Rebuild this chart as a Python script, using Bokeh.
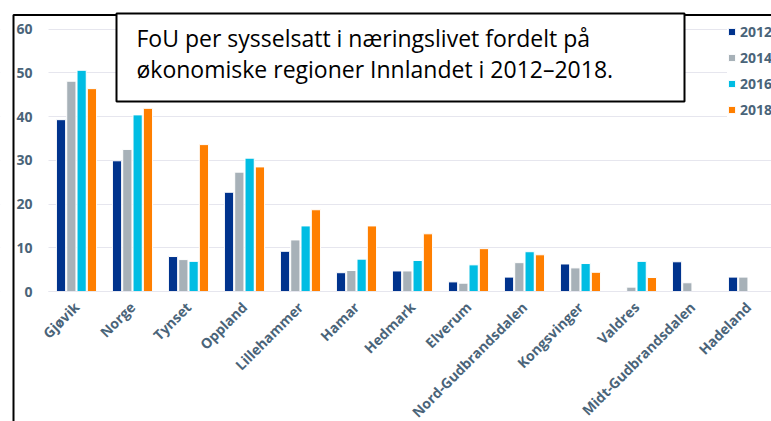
import math
from bokeh.plotting import figure
from bokeh.models import (ColumnDataSource, Range1d, FixedTicker, Legend, LegendItem,
                          BoxAnnotation, Label)
from bokeh.transform import dodge
from bokeh.embed import file_html
from bokeh.resources import INLINE

NaN = float("nan")

regions = ["Gjøvik", "Norge", "Tynset", "Oppland", "Lillehammer", "Hamar", "Hedmark",
           "Elverum", "Nord-Gudbrandsdalen", "Kongsvinger", "Valdres",
           "Midt-Gudbrandsdalen", "Hadeland"]
years = ["2012", "2014", "2016", "2018"]
v2012 = [39.3, 29.9, 8.0, 22.7, 9.2, 4.3, 4.7, 2.2, 3.3, 6.3, NaN, 6.8, 3.3]
v2014 = [48.1, 32.5, 7.3, 27.3, 11.8, 4.8, 4.7, 1.9, 6.6, 5.4, 1.0, 2.0, 3.3]
v2016 = [50.6, 40.4, 6.9, 30.5, 15.0, 7.4, 7.1, 6.1, 9.1, 6.4, 6.9, NaN, NaN]
v2018 = [46.4, 41.9, 33.6, 28.5, 18.7, 15.0, 13.2, 9.8, 8.4, 4.4, 3.2, NaN, NaN]
y_ticks = [0, 10, 20, 30, 40, 50, 60]
title_lines = ["FoU per sysselsatt i næringslivet fordelt på",
               "økonomiske regioner Innlandet i 2012–2018."]

colors = ["#00338d", "#a7b1b8", "#00bde3", "#ff7f00"]
label_color = "#4a6479"
FONT = "Open Sans"

src = ColumnDataSource(dict(x=list(range(len(regions))),
                            y2012=v2012, y2014=v2014, y2016=v2016, y2018=v2018))

# the plot frame covers the whole canvas; axes are pinned inside it
p = figure(width=771, height=421, output_backend="svg", toolbar_location=None,
           x_range=Range1d(-1.357, 12.411), y_range=Range1d(-29.73, 66.56),
           min_border=0)
p.outline_line_color = None
p.background_fill_color = "white"
p.border_fill_color = "white"

# grid, masked left of the plot area
yticker = FixedTicker(ticks=y_ticks)
p.xgrid.grid_line_color = None
p.ygrid.ticker = yticker
p.ygrid.grid_line_color = "#e6e6ee"
p.ygrid.grid_line_width = 1
p.add_layout(BoxAnnotation(left=0, right=48, top=0, bottom=421,
                           left_units="canvas", right_units="canvas",
                           top_units="canvas", bottom_units="canvas",
                           fill_color="white", fill_alpha=1, line_color=None,
                           level="underlay"))

offsets = [-0.276, -0.092, 0.092, 0.276]
renderers = []
for yr, off, col in zip(years, offsets, colors):
    r = p.vbar(x=dodge("x", off, range=p.x_range), top="y" + yr, bottom=0, width=0.165,
               source=src, fill_color=col, line_color="white", line_width=1)
    renderers.append(r)

# axes
p.xaxis.fixed_location = 0
p.xaxis.bounds = (-0.5, 12.411)
p.xaxis.ticker = FixedTicker(ticks=list(range(len(regions))))
p.xaxis.major_label_overrides = {i: name for i, name in enumerate(regions)}
p.xaxis.major_label_orientation = math.pi / 4
p.xaxis.major_tick_line_color = None
p.xaxis.major_tick_out = 0
p.xaxis.major_tick_in = 0
p.xaxis.minor_tick_line_color = None
p.xaxis.axis_line_color = "#e6e6ee"
p.xaxis.axis_line_width = 1
p.xaxis.major_label_standoff = 13
p.xaxis.major_label_text_font = FONT
p.xaxis.major_label_text_font_style = "bold"
p.xaxis.major_label_text_font_size = "14px"
p.xaxis.major_label_text_color = label_color

p.yaxis.fixed_location = -0.5
p.yaxis.ticker = yticker
p.yaxis.axis_line_color = None
p.yaxis.major_tick_line_color = None
p.yaxis.major_tick_out = 0
p.yaxis.major_tick_in = 0
p.yaxis.minor_tick_line_color = None
p.yaxis.major_label_standoff = 16
p.yaxis.major_label_text_font = FONT
p.yaxis.major_label_text_font_style = "bold"
p.yaxis.major_label_text_font_size = "14px"
p.yaxis.major_label_text_color = label_color

# legend
legend = Legend(items=[LegendItem(label=yr, renderers=[r]) for yr, r in zip(years, renderers)],
                location=(727, 302), orientation="vertical",
                glyph_width=9, glyph_height=9, label_height=20, spacing=6,
                padding=8, margin=0, label_standoff=4,
                label_text_font=FONT, label_text_font_style="bold",
                label_text_font_size="14px", label_text_color=label_color,
                background_fill_color="white", background_fill_alpha=1,
                border_line_color=None)
p.add_layout(legend, "center")

# outer frame of the picture (runs off the canvas at right and bottom)
p.add_layout(BoxAnnotation(left=13, right=2000, top=14.5, bottom=2000,
                           left_units="canvas", right_units="canvas",
                           top_units="canvas", bottom_units="canvas",
                           fill_alpha=0, line_color="black", line_alpha=1,
                           line_width=2))

# title box
p.add_layout(BoxAnnotation(left=116, right=684, top=13, bottom=101,
                           left_units="canvas", right_units="canvas",
                           top_units="canvas", bottom_units="canvas",
                           fill_color="white", fill_alpha=1,
                           line_color="black", line_alpha=1, line_width=2))
for i, line in enumerate(title_lines):
    p.add_layout(Label(x=136, y=37.5 + 31 * i, x_units="canvas", y_units="canvas",
                       text=line, text_font=FONT, text_font_size="23px",
                       text_color="black", text_baseline="alphabetic"))

open("out.html", "w").write(file_html(p, INLINE))
